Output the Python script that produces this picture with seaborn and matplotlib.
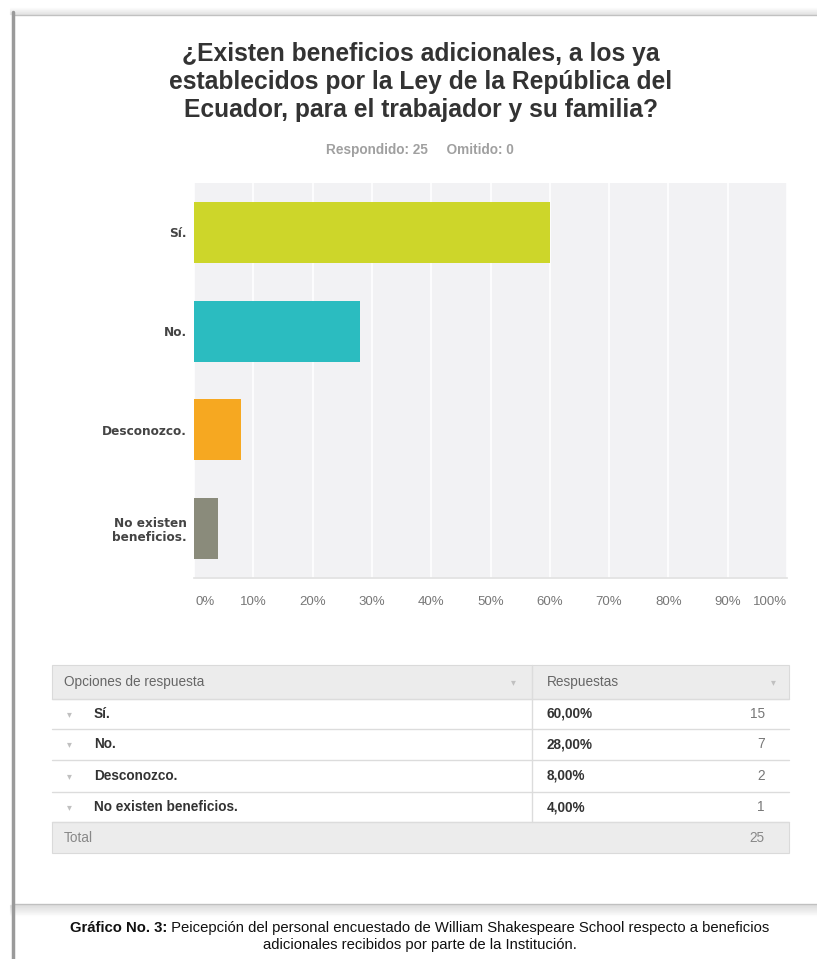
import matplotlib
matplotlib.use("Agg")
import matplotlib.pyplot as plt
import seaborn as sns
from matplotlib.patches import Rectangle

# data
options = ["Sí.", "No.", "Desconozco.", "No existen beneficios."]
tick_labels = ["Sí.", "No.", "Desconozco.", "No existen\nbeneficios."]
counts = [15, 7, 2, 1]
pct = [60.0, 28.0, 8.0, 4.0]
total = 25
omitted = 0
colors = ["#CDD62A", "#2BBCC0", "#F6A821", "#8A8B7B"]
x_ticks = [0, 10, 20, 30, 40, 50, 60, 70, 80, 90, 100]

title = "¿Existen beneficios adicionales, a los ya\nestablecidos por la Ley de la República del\nEcuador, para el trabajador y su familia?"
caption_bold = "Gráfico No. 3:"
caption_rest = " Peicepción del personal encuestado de William Shakespeare School respecto a beneficios"
caption_line2 = "adicionales recibidos por parte de la Institución."

sns.set_theme(style="white")
narrow = ["Liberation Sans Narrow", "Liberation Sans", "DejaVu Sans"]
plt.rcParams["font.family"] = narrow

W, H = 817, 959
fig = plt.figure(figsize=(W / 100, H / 100), dpi=100)
fig.patch.set_facecolor("white")

# background axes in pixel coords (card, title, table, caption)
bg = fig.add_axes([0, 0, 1, 1])
bg.set_xlim(0, W)
bg.set_ylim(H, 0)
bg.axis("off")

# card with soft shadow (top and bottom bands)
for i in range(1, 8):
    bg.plot([10, W], [15 - i, 15 - i], color="#555555", alpha=0.14 * (1 - i / 8), lw=1)
for i in range(1, 12):
    bg.plot([10, W], [904 + i, 904 + i], color="#555555", alpha=0.16 * (1 - i / 12), lw=1)
bg.add_patch(Rectangle((13, 15), W, 889, facecolor="white", edgecolor="#c4c4c4", lw=1))
bg.plot([13, 13], [12, H], color="#9a9a9a", lw=2.5)

bg.text(421, 82, title, ha="center", va="center", fontsize=17.7, fontweight="bold",
        color="#333333", linespacing=1.2)
bg.text(420, 150, f"Respondido: {total}     Omitido: {omitted}", ha="center", va="center",
        fontsize=9.8, fontweight="bold", color="#a0a0a0")

# bar chart
ax = fig.add_axes([194 / W, 1 - 578 / H, 593 / W, 395 / H])
sns.barplot(x=pct, y=options, hue=options, palette=colors, legend=False,
            orient="h", width=0.62, saturation=1, linewidth=0, ax=ax, zorder=3)
ax.set_facecolor("#f2f2f4")
ax.set_xlim(0, 100)
ax.set_xticks(x_ticks)
ax.set_xticklabels([])
ax.grid(axis="x", color="white", lw=1.2, zorder=0)
ax.set_axisbelow(True)
for s in ["top", "right", "left"]:
    ax.spines[s].set_visible(False)
ax.spines["bottom"].set_color("#e2e2e2")
ax.set_xlabel("")
ax.set_ylabel("")
ax.set_yticks(range(len(options)))
ax.set_yticklabels(tick_labels, fontsize=8.7, fontweight="bold", color="#444444",
                   family=["DejaVu Sans"], linespacing=1.1)
ax.tick_params(axis="y", length=0, pad=5)
ax.tick_params(axis="x", length=0)
for t in x_ticks:
    xp = 194 + t / 100 * 593
    ha = "right" if t == 100 else "center"
    bg.text(xp + (11 if t == 0 else 0), 602, f"{t}%", ha=ha,
            va="center", fontsize=9.5, color="#777777")

# response table
tx0, tx1, tdiv = 52, 789, 532
rows_y = [665, 699, 729, 760, 792, 822, 853]
bg.add_patch(Rectangle((tx0, rows_y[0]), tx1 - tx0, rows_y[1] - rows_y[0],
                       facecolor="#ececec", edgecolor="#dadada", lw=0.8))
bg.add_patch(Rectangle((tx0, rows_y[5]), tx1 - tx0, rows_y[6] - rows_y[5],
                       facecolor="#ececec", edgecolor="#dadada", lw=0.8))
for y in rows_y[1:6]:
    bg.plot([tx0, tx1], [y, y], color="#dcdcdc", lw=1)
bg.plot([tdiv, tdiv], [rows_y[0], rows_y[5]], color="#dcdcdc", lw=1)

hy = (rows_y[0] + rows_y[1]) / 2
tfs = 9.8
bg.text(64, hy, "Opciones de respuesta", ha="left", va="center", fontsize=tfs, color="#666666")
bg.text(547, hy, "Respuestas", ha="left", va="center", fontsize=tfs, color="#666666")
bg.text(513, hy, "▾", ha="center", va="center", fontsize=7, color="#c0c0c0", family=["DejaVu Sans"])
bg.text(773, hy, "▾", ha="center", va="center", fontsize=7, color="#c0c0c0", family=["DejaVu Sans"])

for i, (opt, p, c) in enumerate(zip(options, pct, counts)):
    yc = (rows_y[i + 1] + rows_y[i + 2]) / 2
    bg.text(69, yc, "▾", ha="center", va="center", fontsize=7, color="#c0c0c0", family=["DejaVu Sans"])
    bg.text(94, yc, opt, ha="left", va="center", fontsize=tfs, fontweight="bold", color="#333333")
    bg.text(547, yc, f"{p:.2f}%".replace(".", ","), ha="left", va="center", fontsize=tfs,
            fontweight="bold", color="#333333")
    bg.text(765, yc, str(c), ha="right", va="center", fontsize=tfs, color="#777777")

ty = (rows_y[5] + rows_y[6]) / 2
bg.text(64, ty, "Total", ha="left", va="center", fontsize=tfs, color="#888888")
bg.text(765, ty, str(total), ha="right", va="center", fontsize=tfs, color="#888888")

# caption
cb = bg.text(70, 928, caption_bold, ha="left", va="center", fontsize=10.7,
             fontweight="bold", color="#111111")
bg.annotate(caption_rest, xy=(1, 0.5), xycoords=cb, ha="left", va="center",
            fontsize=10.7, color="#111111")
bg.text(420, 945, caption_line2, ha="center", va="center", fontsize=10.7, color="#111111")

fig.savefig("out.png", dpi=100)
